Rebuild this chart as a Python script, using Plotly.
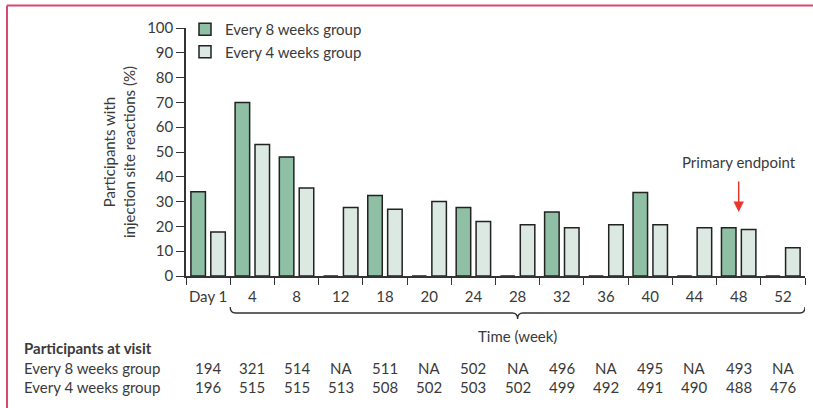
import plotly.graph_objects as go

categories = ["Day 1", "4", "8", "12", "18", "20", "24", "28", "32", "36", "40", "44", "48", "52"]
every8_pct = [34, 70, 48, 0, 32.5, 0, 27.6, 0, 25.8, 0, 33.7, 0, 19.5, 0]
every4_pct = [17.7, 53, 35.5, 27.6, 26.9, 30, 22, 20.7, 19.5, 20.7, 20.7, 19.5, 18.8, 11.4]
every8_n = ["194", "321", "514", "NA", "511", "NA", "502", "NA", "496", "NA", "495", "NA", "493", "NA"]
every4_n = ["196", "515", "515", "513", "508", "502", "503", "502", "499", "492", "491", "490", "488", "476"]
yticks = list(range(0, 101, 10))

FONT = "Lato"
FS = 15
TXT = "#3a3a3a"
GREEN = "#8fbfa5"
LIGHT = "#dbe9e2"
EDGE = "#222222"

xs = list(range(len(categories)))

fig = go.Figure()
fig.add_trace(go.Bar(x=xs, y=every8_pct, name="Every 8 weeks group",
                     marker=dict(color=GREEN, line=dict(color=EDGE, width=1.5))))
fig.add_trace(go.Bar(x=xs, y=every4_pct, name="Every 4 weeks group",
                     marker=dict(color=LIGHT, line=dict(color=EDGE, width=1.5))))

L, R, T, B = 186, 8, 28, 132
W, H = 813, 408
pw, ph = W - L - R, H - T - B

def py(px):
    return (H - B - px) / ph

def pxr(px):
    return (px - L) / pw

fig.update_layout(
    width=W, height=H,
    margin=dict(l=L, r=R, t=T, b=B, pad=0),
    paper_bgcolor="white", plot_bgcolor="white",
    barmode="group", bargap=0.1, bargroupgap=0.27,
    font=dict(family=FONT, size=FS, color=TXT),
    showlegend=True,
    legend=dict(x=pxr(185), y=py(13), xanchor="left", yanchor="top",
                font=dict(size=FS, color=TXT), bgcolor="rgba(0,0,0,0)",
                tracegroupgap=0, itemwidth=30),
    xaxis=dict(range=[-0.5, len(categories) - 0.5], tickmode="array",
               tickvals=xs, ticktext=categories, ticks="outside", ticklen=6,
               tickcolor="rgba(0,0,0,0)", showgrid=False, zeroline=False,
               showline=True, linecolor="#333333", linewidth=1.5,
               tickfont=dict(size=FS, color=TXT),
               minor=dict(tickmode="linear", tick0=-0.5, dtick=1, ticks="outside",
                          ticklen=7, tickcolor="#333333", tickwidth=1.3, showgrid=False)),
    yaxis=dict(range=[0, 100], tickmode="array", tickvals=yticks, ticks="outside",
               ticklen=8, tickcolor="#333333", tickwidth=1.3, showgrid=False,
               zeroline=False, showline=True, linecolor="#333333", linewidth=1.5,
               tickfont=dict(size=FS, color=TXT),
               title=dict(text="Participants with<br>injection site reactions (%)",
                          font=dict(size=FS, color=TXT), standoff=8)),
)

# brace under weeks 4-52
x0, x1 = 0.5, len(categories) - 0.5
xm = (x0 + x1) / 2
ye, yl, yt = py(307), py(313), py(319)
d = 0.12
path = (f"M {x0},{ye} Q {x0},{yl} {x0+d},{yl} L {xm-d},{yl} Q {xm},{yl} {xm},{yt} "
        f"Q {xm},{yl} {xm+d},{yl} L {x1-d},{yl} Q {x1},{yl} {x1},{ye}")
fig.add_shape(type="path", path=path, xref="x", yref="paper",
              line=dict(color="#333333", width=1.3))
fig.add_annotation(x=xm, y=py(336), xref="x", yref="paper", text="Time (week)",
                   xanchor="center", yanchor="middle",
                   showarrow=False, font=dict(size=FS, color=TXT))

# table
def label(txt, ypx):
    fig.add_annotation(x=pxr(22), y=py(ypx), xref="paper", yref="paper",
                       xanchor="left", yanchor="middle", text=txt, showarrow=False,
                       font=dict(size=FS, color=TXT))

label("<b>Participants at visit</b>", 348)
label("Every 8 weeks group", 368)
label("Every 4 weeks group", 387)
for i, (a, b) in enumerate(zip(every8_n, every4_n)):
    fig.add_annotation(x=i, y=py(368), xref="x", yref="paper", text=a,
                       xanchor="center", yanchor="middle",
                       showarrow=False, font=dict(size=FS, color=TXT))
    fig.add_annotation(x=i, y=py(387), xref="x", yref="paper", text=b,
                       xanchor="center", yanchor="middle",
                       showarrow=False, font=dict(size=FS, color=TXT))

# primary endpoint
ep = categories.index("48")
fig.add_annotation(x=ep, y=(H - B - 162) / ph * 100, xref="x", yref="y",
                   text="Primary endpoint", showarrow=False,
                   xanchor="center", yanchor="middle", font=dict(size=FS, color=TXT))
fig.add_annotation(x=ep, y=(H - B - 212) / ph * 100, xref="x", yref="y", text="",
                   showarrow=True, ax=0, ay=-32, arrowhead=2, arrowsize=1.4,
                   arrowwidth=1.5, arrowcolor="#e8372c")

# frame
fig.add_shape(type="line", xref="paper", yref="paper", x0=pxr(7), x1=pxr(820),
              y0=py(5.5), y1=py(5.5), line=dict(color="#d9466f", width=2))
fig.add_shape(type="line", xref="paper", yref="paper", x0=pxr(7), x1=pxr(7),
              y0=py(5.5), y1=py(420), line=dict(color="#d9466f", width=2))

fig.write_html("out.html", config={"displayModeBar": False},
               post_script="document.body.style.margin='0';document.body.style.overflow='hidden';")
